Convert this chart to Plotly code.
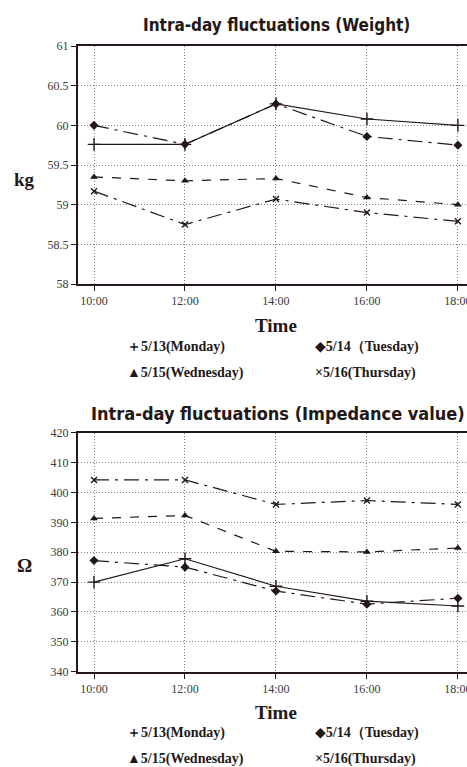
import plotly.graph_objects as go

times = ["10:00", "12:00", "14:00", "16:00", "18:00"]
series_names = ["5/13(Monday)", "5/14（Tuesday)", "5/15(Wednesday)", "5/16(Thursday)"]
legend_symbols = ["＋", "◆", "▲", "×"]

weight_mon = [59.76, 59.76, 60.27, 60.08, 60.00]
weight_tue = [60.00, 59.76, 60.27, 59.86, 59.75]
weight_wed = [59.35, 59.30, 59.33, 59.09, 59.00]
weight_thu = [59.17, 58.75, 59.07, 58.90, 58.79]

imp_mon = [370.0, 377.8, 368.6, 363.6, 362.0]
imp_tue = [377.2, 375.0, 367.0, 362.6, 364.6]
imp_wed = [391.3, 392.3, 380.3, 380.1, 381.4]
imp_thu = [404.2, 404.2, 396.0, 397.3, 396.0]

W, H = 467, 767
INK = "#231815"
SERIF = "Liberation Serif, DejaVu Serif, serif"
TITLE_FONT = "DejaVu Sans Condensed, Liberation Sans Narrow, sans-serif"

styles = [
    dict(dash="solid", symbol="cross-thin", size=9, lw=1.4),
    dict(dash="longdashdot", symbol="diamond", size=7, lw=0),
    dict(dash="dash", symbol="triangle-up", size=7, lw=0),
    dict(dash="longdashdot", symbol="x-thin", size=6, lw=1.4),
]

fig = go.Figure()

def add_series(data, xa, ya):
    for vals, st, name in zip(data, styles, series_names):
        fig.add_trace(go.Scatter(
            x=times, y=vals, xaxis=xa, yaxis=ya, name=name, showlegend=False,
            mode="lines+markers",
            line=dict(color=INK, width=1.2, dash=st["dash"]),
            marker=dict(symbol=st["symbol"], size=st["size"], color=INK,
                        line=dict(color=INK, width=st["lw"])),
        ))

add_series([weight_mon, weight_tue, weight_wed, weight_thu], "x", "y")
add_series([imp_mon, imp_tue, imp_wed, imp_thu], "x2", "y2")

def px(x):
    return x / W

def py(y):
    return 1 - y / H

xdom = [px(78), 1.0]
top_dom = [py(284), py(46)]
bot_dom = [py(671.7), py(432.7)]

GRID = dict(showgrid=True, gridcolor="#808080", griddash="1px,2px", gridwidth=1)

xcommon = dict(
    type="category", range=[-0.176, 4.1], showline=True, linewidth=2, linecolor=INK,
    mirror=True, ticks="outside", ticklen=5, tickwidth=1, tickcolor=INK,
    tickfont=dict(family=SERIF, size=12, color="#3a3a3a"), zeroline=False,
    domain=xdom, automargin=False, **GRID,
)
ycommon = dict(
    showline=True, linewidth=2, linecolor=INK, mirror=False, ticks="outside",
    ticklen=5, tickwidth=1, tickcolor=INK,
    tickfont=dict(family=SERIF, size=12, color="#3a3a3a"),
    zeroline=False, automargin=False, **GRID,
)

fig.update_layout(
    width=W, height=H, margin=dict(l=0, r=0, t=0, b=0, pad=0),
    paper_bgcolor="white", plot_bgcolor="white",
    xaxis=dict(**xcommon, anchor="y"),
    yaxis=dict(**ycommon, domain=top_dom, range=[58, 61],
               tickvals=[58, 58.5, 59, 59.5, 60, 60.5, 61],
               ticktext=["58", "58.5", "59", "59.5", "60", "60.5", "61"], anchor="x"),
    xaxis2=dict(**xcommon, anchor="y2"),
    yaxis2=dict(**ycommon, domain=bot_dom, range=[340, 420], dtick=10, anchor="x2"),
)

ann = []
def text(x, y, s, size, family, bold=True, xanchor="center", color=INK):
    ann.append(dict(x=px(x), y=py(y), xref="paper", yref="paper", text=f"<b>{s}</b>" if bold else s,
                    showarrow=False, xanchor=xanchor, yanchor="middle",
                    font=dict(family=family, size=size, color=color)))

text(276, 25, "Intra-day fluctuations (Weight)", 17, TITLE_FONT)
text(278, 413, "Intra-day fluctuations (Impedance value)", 18, TITLE_FONT)
text(24, 180, "kg", 19, SERIF)
text(24, 565, "Ω", 19, SERIF)
text(276, 325, "Time", 19, SERIF)
text(276, 712, "Time", 19, SERIF)

for base in (0, 386):
    rows = [347 + base, 373 + base]
    cols = [125, 313]
    for i, (sym, name) in enumerate(zip(legend_symbols, series_names)):
        r, c = divmod(i, 2)
        text(cols[c], rows[r], sym + name, 14, SERIF, xanchor="left")

fig.update_layout(annotations=ann)
fig.write_html(
    "out.html",
    config={"displayModeBar": False},
    post_script="document.body.style.margin='0';document.body.style.overflow='hidden';",
)
